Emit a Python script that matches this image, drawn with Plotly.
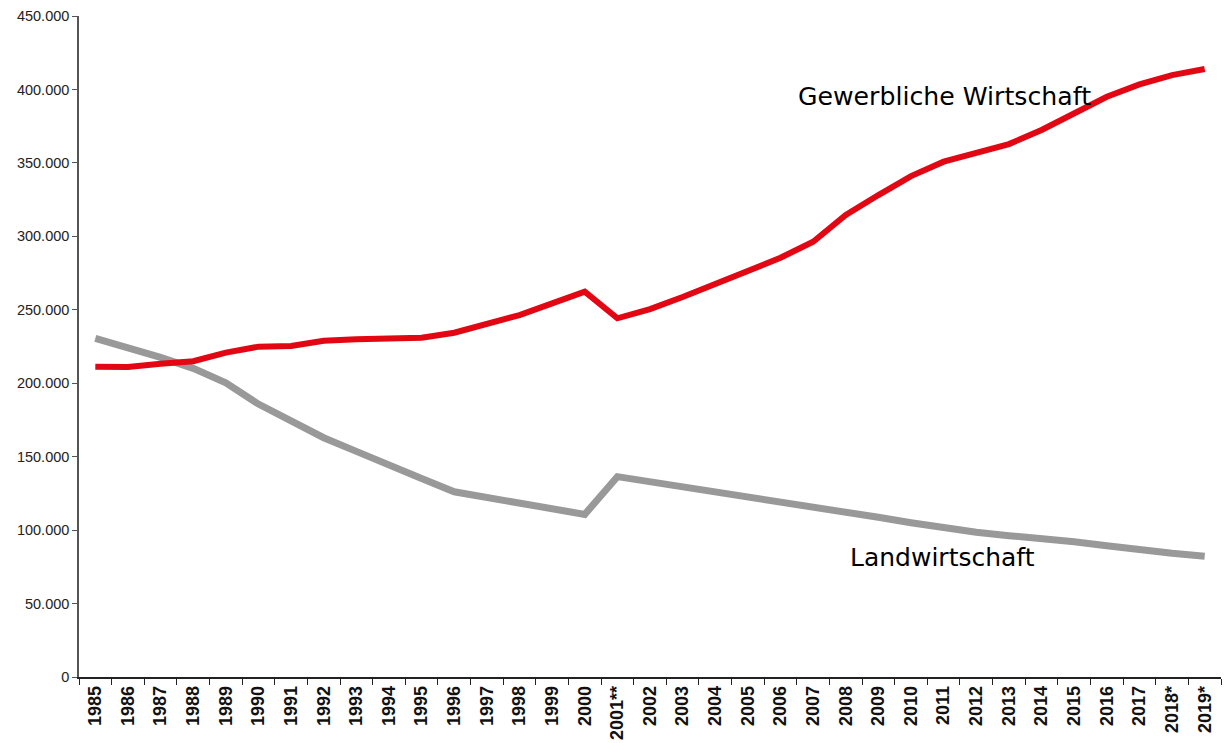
import plotly.graph_objects as go

# Jahre (Kategorien der x-Achse)
years = ["1985", "1986", "1987", "1988", "1989", "1990", "1991", "1992", "1993", "1994",
         "1995", "1996", "1997", "1998", "1999", "2000", "2001**", "2002", "2003", "2004",
         "2005", "2006", "2007", "2008", "2009", "2010", "2011", "2012", "2013", "2014",
         "2015", "2016", "2017", "2018*", "2019*"]

# Versicherte – Gewerbliche Wirtschaft
gewerbe = [211200, 211000, 213300, 215000, 220800, 224900, 225300, 228900, 230000, 230500,
           231000, 234400, 240000, 246400, 254400, 262300, 244200, 250500, 258700, 267500,
           277000, 285400, 296300, 314500, 328100, 341000, 350800, 357200, 362800, 372400,
           384200, 395000, 403400, 409800, 413900]

# Versicherte – Landwirtschaft
landwirtschaft = [230500, 224200, 217600, 210100, 200300, 185800, 174500, 162900, 153600, 145000,
                  135200, 126100, 122000, 118200, 114800, 110700, 136400, 133000, 130000, 126800,
                  123400, 119800, 115900, 112100, 108700, 105000, 101600, 98500, 96200, 94400,
                  92100, 89400, 86500, 84200, 82200]

fig = go.Figure()
fig.add_trace(go.Scatter(
    x=years, y=landwirtschaft, mode="lines", name="Landwirtschaft",
    line=dict(color="#999999", width=7), hoverinfo="skip"))
fig.add_trace(go.Scatter(
    x=years, y=gewerbe, mode="lines", name="Gewerbliche Wirtschaft",
    line=dict(color="#E30613", width=6), hoverinfo="skip"))

fig.add_annotation(
    text="Gewerbliche Wirtschaft", xref="paper", yref="paper",
    x=0.6276, y=0.8775, xanchor="left", yanchor="middle", showarrow=False,
    font=dict(family="DejaVu Sans", size=25.2, color="#000000"))
fig.add_annotation(
    text="Landwirtschaft", xref="paper", yref="paper",
    x=0.6736, y=0.1815, xanchor="left", yanchor="middle", showarrow=False,
    font=dict(family="DejaVu Sans", size=25, color="#000000"))

fig.update_layout(
    width=1225, height=743,
    margin=dict(l=79, r=4, t=16, b=66),
    paper_bgcolor="white", plot_bgcolor="white",
    showlegend=False,
    separators=",.",
    font=dict(family="Liberation Sans", color="#222222"),
)
fig.update_xaxes(
    type="category", tickson="boundaries", range=[-0.5, len(years) - 0.5],
    showline=True, linecolor="#222222", linewidth=1.5,
    ticks="outside", ticklen=6, tickcolor="#222222", tickwidth=1.2,
    tickangle=-90,
    tickfont=dict(family="Liberation Sans", size=18, color="#111111", weight="bold"),
    showgrid=False, zeroline=False,
)
fig.update_yaxes(
    range=[0, 450000], dtick=50000, tickformat=",d",
    showline=True, linecolor="#555555", linewidth=1.5,
    ticks="outside", ticklen=5, tickcolor="#555555",
    tickfont=dict(family="Liberation Sans", size=14.5, color="#222222"),
    showgrid=False, zeroline=False,
)

fig.write_html("out.html")
